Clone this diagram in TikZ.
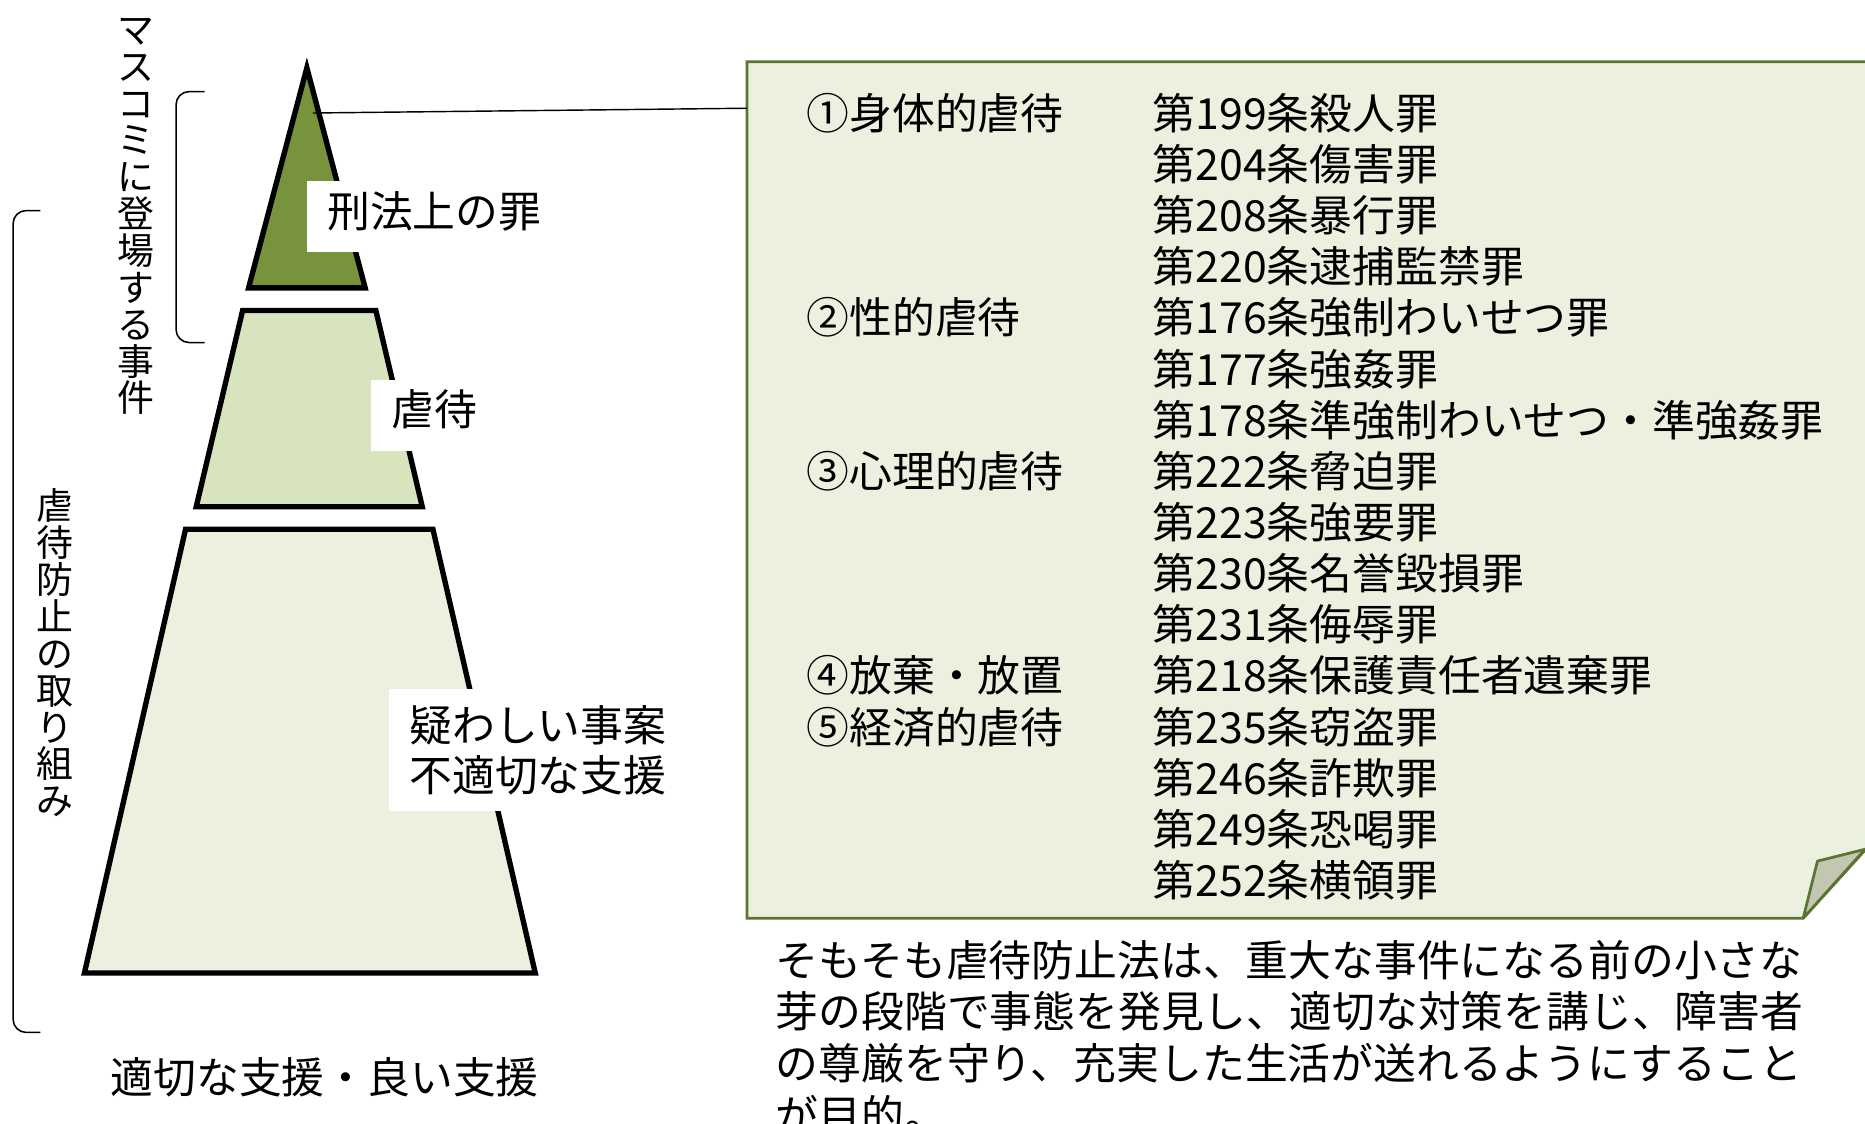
\documentclass[tikz,border=0pt]{standalone}
\usepackage{fontspec}
\setmainfont{Noto Sans CJK JP}
\definecolor{crimegreen}{HTML}{77933C}
\definecolor{abusegreen}{HTML}{D7E4BD}
\definecolor{palegreen}{HTML}{EBF1DE}
\definecolor{noteline}{HTML}{5A7431}
\definecolor{foldgray}{HTML}{C3C7B1}
\begin{document}
\begin{tikzpicture}[x=1pt,y=-1pt,
	layer/.style={draw=black,line width=4.5pt},
	whitelabel/.style={fill=white,anchor=north west,inner xsep=17pt,inner ysep=0pt,align=left,font=\fontsize{36}{42}\selectfont},
	onelabel/.style={whitelabel,minimum height=60pt,text height=31.7pt,text depth=14.4pt},
	lawtext/.style={anchor=west,inner sep=0pt,font=\fontsize{36}{43}\selectfont,text height=31.7pt,text depth=4.3pt},
	vtext/.style={align=center,inner sep=0pt,font=\fontsize{31}{31}\selectfont},
	brace/.style={draw=black,line width=1.3pt,rounded corners=11pt}]
	\useasboundingbox (0,0) rectangle (1568,945);
	\clip (0,0) rectangle (1568,945);

	% pyramid
	\draw[layer,fill=palegreen] (156,445) -- (364,445) -- (450,818) -- (71,818) -- cycle;
	\draw[layer,fill=abusegreen] (204,261) -- (316,261) -- (355,426) -- (165,426) -- cycle;
	\draw[layer,fill=crimegreen] (258,57) -- (307,242) -- (209,242) -- cycle;

	\node[onelabel] (crime) at (258,152) {刑法上の罪};
	\node[onelabel] (abuse) at (312,319) {虐待};
	\node[whitelabel,minimum height=103pt] (doubt) at (327,579) {疑わしい事案\\不適切な支援};
	\node[inner sep=0pt,font=\fontsize{36}{42}\selectfont] (goodcare) at (273,906) {適切な支援・良い支援};

	% brackets
	\draw[brace] (172,77) -- (148,77) -- (148,288) -- (172,288);
	\draw[brace] (34,177) -- (11,177) -- (11,868) -- (34,868);
	\node[vtext] (massmedia) at (114,182) {マ\\ス\\コ\\ミ\\に\\登\\場\\す\\る\\事\\件};
	\node[vtext] (prevent) at (46,549) {虐\\待\\防\\止\\の\\取\\り\\組\\み};

	% note
	\draw[noteline,line width=2.3pt,fill=palegreen] (628,52) -- (1576,52) -- (1576,706) -- (1516,772) -- (628,772) -- cycle;
	\draw[noteline,line width=2.3pt,fill=foldgray,line join=round] (1516,772) -- (1528,724) -- (1568,714) -- cycle;
	\coordinate (crimetip) at (263,95);
	\coordinate (noteW) at (628,91);
	\draw[line width=1.2pt] (crimetip) -- (noteW);

	\foreach \law [count=\i from 0] in {第199条殺人罪,第204条傷害罪,第208条暴行罪,第220条逮捕監禁罪,
		第176条強制わいせつ罪,第177条強姦罪,第178条準強制わいせつ・準強姦罪,第222条脅迫罪,
		第223条強要罪,第230条名誉毀損罪,第231条侮辱罪,第218条保護責任者遺棄罪,
		第235条窃盗罪,第246条詐欺罪,第249条恐喝罪,第252条横領罪}
		\node[lawtext] (law\i) at (969,{95+43*\i}) {\law};

	\node[lawtext] (physical) at (678,95) {①身体的虐待};
	\node[lawtext] (sexual) at (physical.west |- law4) {②性的虐待};
	\node[lawtext] (mental) at (physical.west |- law7) {③心理的虐待};
	\node[lawtext] (neglect) at (physical.west |- law11) {④放棄・放置};
	\node[lawtext] (economic) at (physical.west |- law12) {⑤経済的虐待};

	\node[anchor=north west,inner sep=0pt,align=left,font=\fontsize{36}{43.5}\selectfont] (purpose) at (652,790)
		{そもそも虐待防止法は、重大な事件になる前の小さな\\芽の段階で事態を発見し、適切な対策を講じ、障害者\\の尊厳を守り、充実した生活が送れるようにすること\\が目的。};
\end{tikzpicture}
\end{document}
